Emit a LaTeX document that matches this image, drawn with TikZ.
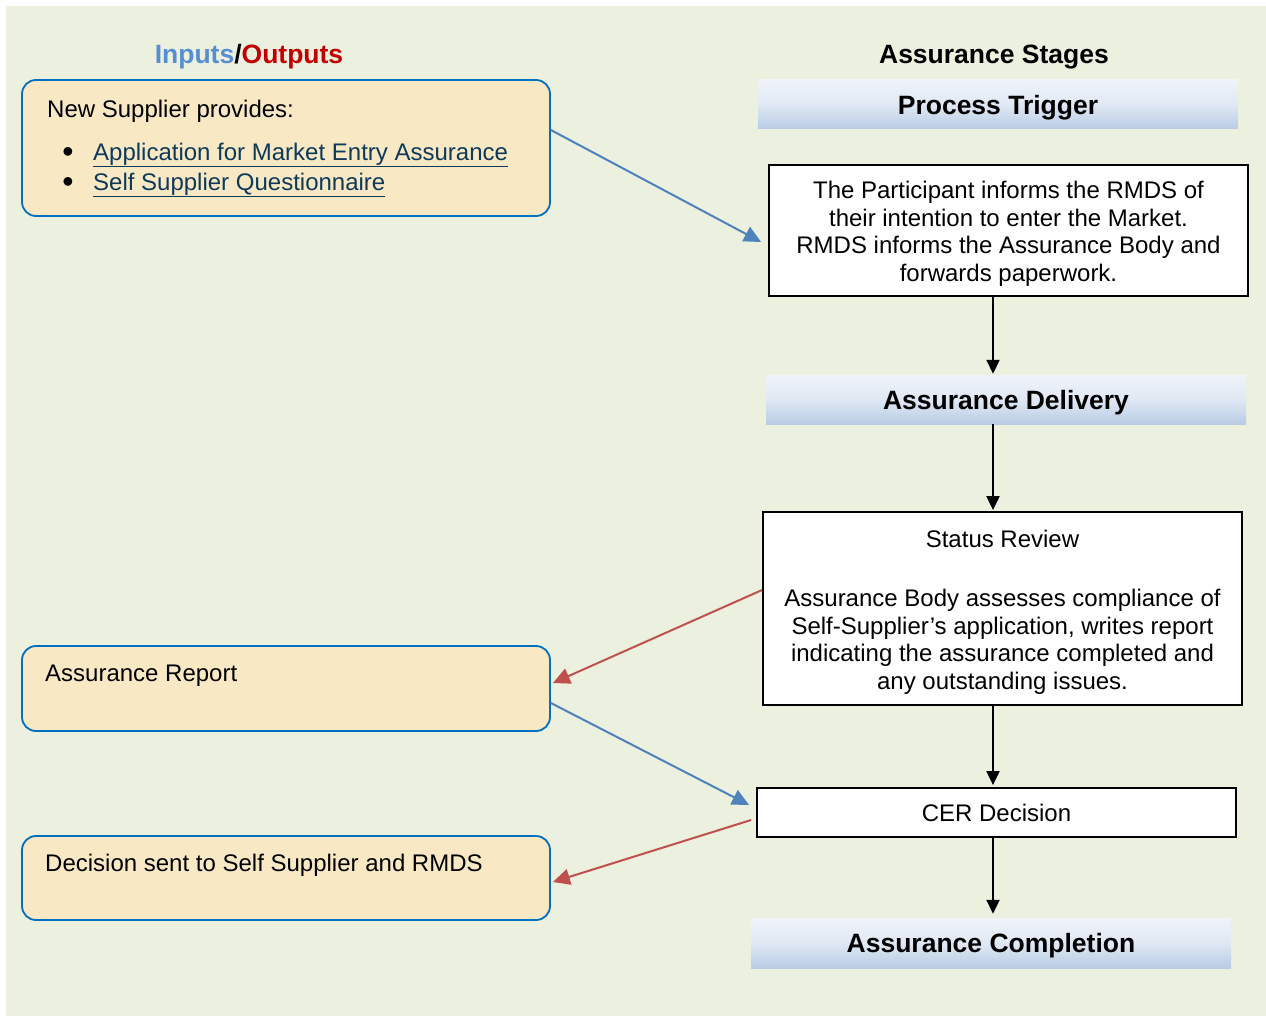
\documentclass[tikz,border=0pt]{standalone}
\usepackage{fontspec}
\setmainfont{Liberation Sans}
\usetikzlibrary{arrows.meta,calc}
\definecolor{bg}{RGB}{235,241,222}
\definecolor{tanfill}{RGB}{248,232,196}
\definecolor{boxblue}{RGB}{0,112,192}
\definecolor{inblue}{RGB}{85,142,213}
\definecolor{outred}{RGB}{192,0,0}
\definecolor{arrblue}{RGB}{79,129,189}
\definecolor{arrred}{RGB}{192,80,77}
\definecolor{linkcol}{RGB}{14,58,90}
\definecolor{gtop}{RGB}{240,244,250}
\definecolor{gbot}{RGB}{184,204,228}
\begin{document}
\begin{tikzpicture}[x=1pt,y=-1pt,
  txt/.style={font=\fontsize{24}{27.5}\selectfont},
  headtxt/.style={font=\fontsize{26.5}{30}\selectfont\bfseries},
  iobox/.style={draw=boxblue,line width=1.8pt,fill=tanfill,rounded corners=14pt,minimum width=528pt,inner sep=0pt},
  stagebar/.style={top color=gtop,bottom color=gbot,middle color=gtop!70!gbot,minimum width=480pt,minimum height=49pt,inner sep=0pt,text depth=0pt,headtxt},
  procbox/.style={draw=black,line width=1.8pt,fill=white,minimum width=479pt,inner sep=0pt,align=center,txt},
  flow/.style={line width=2pt,-{Triangle[length=14pt,width=13pt]}},
  inarrow/.style={draw=arrblue,line width=2pt,-{Triangle[length=17pt,width=16pt]}},
  outarrow/.style={draw=arrred,line width=2pt,-{Triangle[length=17pt,width=16pt]}},
  lefttxt/.style={anchor=west,inner sep=0pt,txt},
  bul/.style={inner sep=0pt,font=\fontsize{32}{32}\selectfont}
]
\useasboundingbox (0,0) rectangle (1266,1016);
\fill[bg] (6,6) rectangle (1266,1016);

% headings
\node[headtxt] (hio) at (249,57) {\textcolor{inblue}{Inputs}/\textcolor{outred}{Outputs}};
\node[headtxt] (hstages) at (994,57) {Assurance Stages};

% left boxes
\node[iobox,minimum height=136pt] (box1) at (286,148) {};
\node[lefttxt] (t1) at (47,111.5) {New Supplier provides:};
\node[bul] (b1) at (68,155) {\textbullet};
\node[bul] (b2) at (68,185) {\textbullet};
\node[lefttxt,text=linkcol] (l1) at (93,155) {\underline{Application for Market Entry Assurance}};
\node[lefttxt,text=linkcol] (l2) at (93,185) {\underline{Self Supplier Questionnaire}};

\node[iobox,minimum height=85pt] (report) at (286,688.5) {};
\node[lefttxt] (treport) at (45,676) {Assurance Report};

\node[iobox,minimum height=84pt] (decision) at (286,878) {};
\node[lefttxt] (tdecision) at (45,865.5) {Decision sent to Self Supplier and RMDS};

% stage bars
\node[stagebar] (trigger) at (998,104.5) {Process Trigger};
\node[stagebar] (delivery) at (1006,399.5) {Assurance Delivery};
\node[stagebar,minimum height=50pt] (completion) at (991,943) {Assurance Completion};

% process boxes
\node[procbox,minimum height=131pt] (inform) at (1008.5,230.5)
  {\rule{0pt}{23.5pt}The Participant informs the RMDS of\\their intention to enter the Market.\\RMDS informs the Assurance Body and\\forwards paperwork.};
\node[procbox,minimum height=193pt] (status) at (1002.5,608.5)
  {\rule{0pt}{24.5pt}Status Review\\[32pt]Assurance Body assesses compliance of\\Self-Supplier’s application, writes report\\indicating the assurance completed and\\any outstanding issues.};
\node[procbox,minimum height=49pt] (cer) at (996.5,812.5) {CER Decision};

% flow axis
\coordinate (axis) at (993,0);
\draw[flow] (inform.south -| axis) -- ([yshift=1pt]delivery.north -| axis);
\draw[flow] (delivery.south -| axis) -- ([yshift=1pt]status.north -| axis);
\draw[flow] (status.south -| axis) -- ([yshift=2pt]cer.north -| axis);
\draw[flow] (cer.south -| axis) -- ([yshift=4pt]completion.north -| axis);

% inputs / outputs
\draw[inarrow] ([yshift=18pt]box1.east) -- ([xshift=-7pt,yshift=-11.5pt]inform.west);
\draw[outarrow] ([yshift=18.5pt]status.west) -- ([xshift=2pt,yshift=5.5pt]report.east);
\draw[inarrow] ([yshift=-14.5pt]report.east) -- ([xshift=-7pt,yshift=7.5pt]cer.west);
\draw[outarrow] ([xshift=-5pt,yshift=-7.5pt]cer.west) -- ([xshift=2pt,yshift=-4pt]decision.east);
\end{tikzpicture}
\end{document}
